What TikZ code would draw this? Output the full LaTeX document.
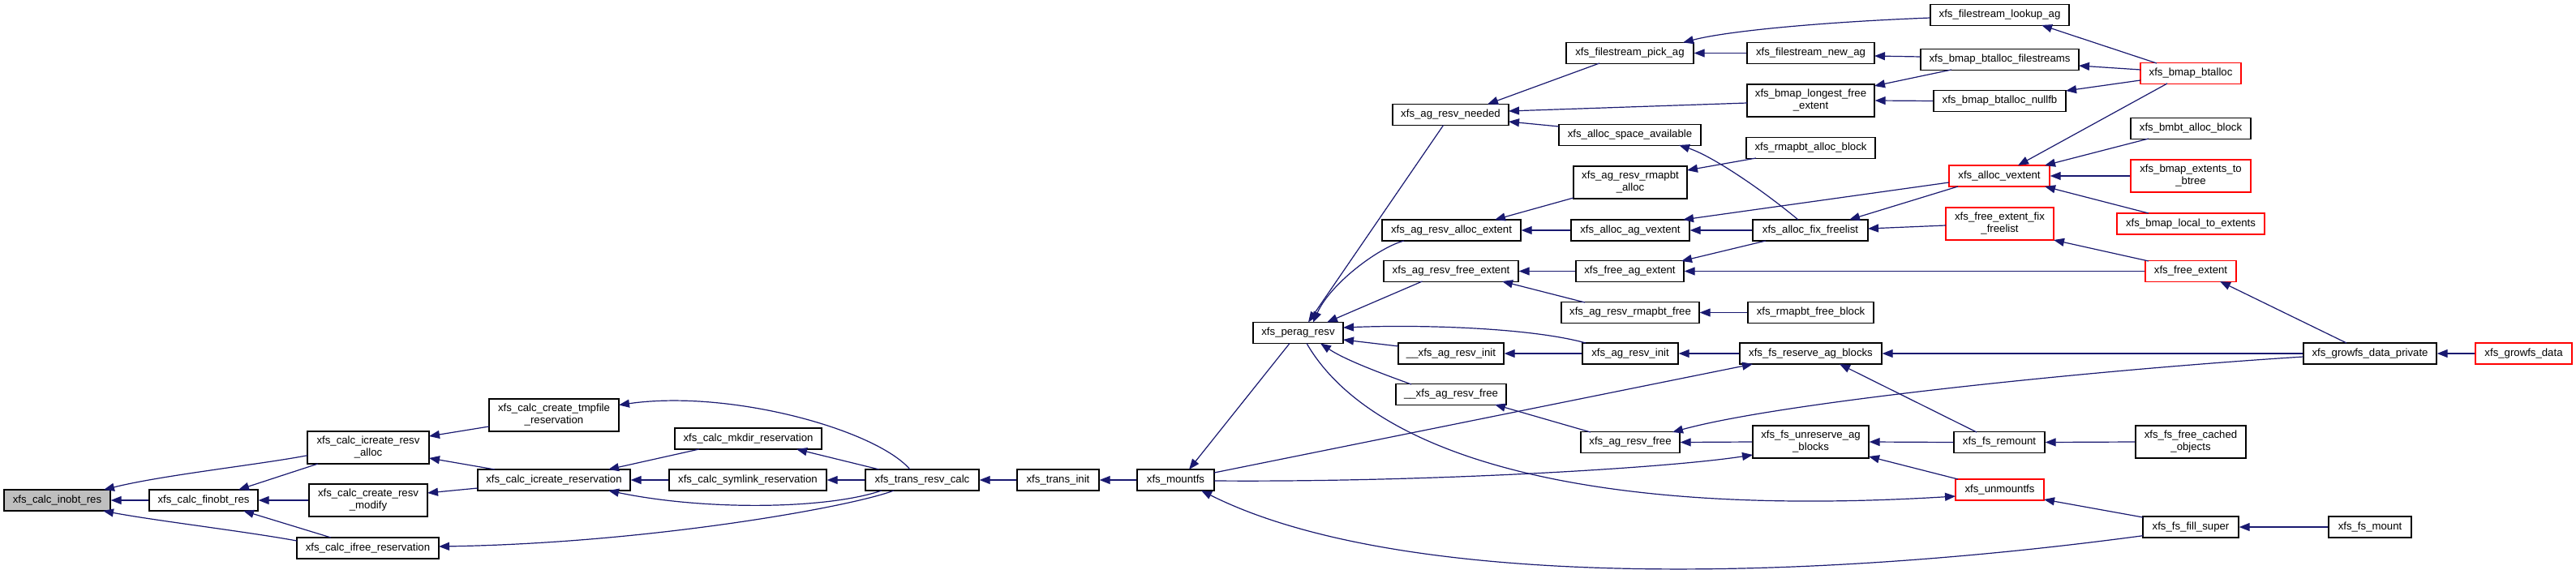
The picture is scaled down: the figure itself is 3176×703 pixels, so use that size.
\documentclass[tikz,border=0pt]{standalone}
\usepackage{fontspec}
\setmainfont{Liberation Sans}
\usetikzlibrary{arrows.meta}
\definecolor{edgecol}{HTML}{191970}
\definecolor{rootfill}{HTML}{BFBFBF}
\newcommand{\nodefont}{\fontsize{13.2pt}{15pt}\selectfont}
\begin{document}
\begin{tikzpicture}[x=1pt,y=-1pt,
  box/.style={draw=black, fill=white, line width=1.3pt, inner sep=0pt, minimum height=26pt, align=center, font=\nodefont},
  box2/.style={box, minimum height=40pt},
  rbox/.style={box, draw=red},
  rbox2/.style={box2, draw=red},
  e/.style={draw=edgecol, line width=1.2pt, -{Triangle[length=13pt,width=10pt]}}]
\useasboundingbox (0,0) rectangle (3176,703);
\fill[white] (0,0) rectangle (3176,703);
% nodes
\node[box,minimum width=131pt,fill=rootfill] (inobt) at (70.5,617) {xfs\_calc\_inobt\_res};
\node[box,minimum width=134pt] (finobt) at (251,617) {xfs\_calc\_finobt\_res};
\node[box2,minimum width=150pt] (icalloc) at (454,552) {xfs\_calc\_icreate\_resv\\\_alloc};
\node[box2,minimum width=146pt] (modify) at (454,617) {xfs\_calc\_create\_resv\\\_modify};
\node[box,minimum width=175pt] (ifree) at (453.5,676) {xfs\_calc\_ifree\_reservation};
\node[box2,minimum width=160pt] (tmpfile) at (683,512) {xfs\_calc\_create\_tmpfile\\\_reservation};
\node[box,minimum width=188pt] (icres) at (683,592) {xfs\_calc\_icreate\_reservation};
\node[box,minimum width=181pt] (mkdir) at (922.5,541) {xfs\_calc\_mkdir\_reservation};
\node[box,minimum width=194pt] (symlink) at (922,592) {xfs\_calc\_symlink\_reservation};
\node[box,minimum width=140pt] (trc) at (1137,592) {xfs\_trans\_resv\_calc};
\node[box,minimum width=101pt] (tinit) at (1304.5,592) {xfs\_trans\_init};
\node[box,minimum width=95pt] (mountfs) at (1449.5,592) {xfs\_mountfs};
\node[box,minimum width=111pt] (perag) at (1600.5,410.5) {xfs\_perag\_resv};
\node[box,minimum width=143pt] (needed) at (1788.5,141.5) {xfs\_ag\_resv\_needed};
\node[box,minimum width=171pt] (allocext) at (1789.5,284) {xfs\_ag\_resv\_alloc\_extent};
\node[box,minimum width=166pt] (freeext) at (1789,334.5) {xfs\_ag\_resv\_free\_extent};
\node[box,minimum width=130pt] (uinit) at (1789,436) {\_\_xfs\_ag\_resv\_init};
\node[box,minimum width=136pt] (ufree) at (1789,486.5) {\_\_xfs\_ag\_resv\_free};
\node[box,minimum width=157pt] (pick) at (2009.5,65.5) {xfs\_filestream\_pick\_ag};
\node[box,minimum width=175pt] (spaceav) at (2009.5,166.5) {xfs\_alloc\_space\_available};
\node[box2,minimum width=140pt] (rmapalloc) at (2010,225) {xfs\_ag\_resv\_rmapbt\\\_alloc};
\node[box,minimum width=146pt] (agvext) at (2010,284) {xfs\_alloc\_ag\_vextent};
\node[box,minimum width=133pt] (freeagext) at (2009.5,334.5) {xfs\_free\_ag\_extent};
\node[box,minimum width=170pt] (rmapfree) at (2010,385.5) {xfs\_ag\_resv\_rmapbt\_free};
\node[box,minimum width=118pt] (aginit) at (2010,436) {xfs\_ag\_resv\_init};
\node[box,minimum width=122pt] (agfree) at (2010,545.5) {xfs\_ag\_resv\_free};
\node[box,minimum width=171pt] (lookup) at (2465.5,18.5) {xfs\_filestream\_lookup\_ag};
\node[box,minimum width=157pt] (newag) at (2232.5,65.5) {xfs\_filestream\_new\_ag};
\node[box2,minimum width=157pt] (longest) at (2232.5,124) {xfs\_bmap\_longest\_free\\\_extent};
\node[box,minimum width=159pt] (rmapallocblk) at (2232.5,182.5) {xfs\_rmapbt\_alloc\_block};
\node[box,minimum width=142pt] (fixfl) at (2232,284) {xfs\_alloc\_fix\_freelist};
\node[box,minimum width=155pt] (rmapfreeblk) at (2232.5,385.5) {xfs\_rmapbt\_free\_block};
\node[box,minimum width=175pt] (reserve) at (2232.5,436) {xfs\_fs\_reserve\_ag\_blocks};
\node[box2,minimum width=143pt] (unreserve) at (2232.5,545) {xfs\_fs\_unreserve\_ag\\\_blocks};
\node[box,minimum width=195pt] (btfs) at (2465.5,73.5) {xfs\_bmap\_btalloc\_filestreams};
\node[box,minimum width=163pt] (nullfb) at (2465.5,124.5) {xfs\_bmap\_btalloc\_nullfb};
\node[rbox,minimum width=124pt] (vextent) at (2465,217) {xfs\_alloc\_vextent};
\node[rbox2,minimum width=133pt] (fixfix) at (2465.5,276) {xfs\_free\_extent\_fix\\\_freelist};
\node[box,minimum width=112pt] (remount) at (2465,545.5) {xfs\_fs\_remount};
\node[rbox,minimum width=109pt] (unmountfs) at (2465.5,604) {xfs\_unmountfs};
\node[rbox,minimum width=124pt] (btalloc) at (2701,90.5) {xfs\_bmap\_btalloc};
\node[box,minimum width=148pt] (bmbt) at (2701,158.5) {xfs\_bmbt\_alloc\_block};
\node[rbox2,minimum width=148pt] (ext2bt) at (2701,217) {xfs\_bmap\_extents\_to\\\_btree};
\node[rbox,minimum width=182pt] (local) at (2701,276) {xfs\_bmap\_local\_to\_extents};
\node[rbox,minimum width=112pt] (freeextent) at (2701,334.5) {xfs\_free\_extent};
\node[box2,minimum width=136pt] (freecached) at (2701,545) {xfs\_fs\_free\_cached\\\_objects};
\node[box,minimum width=118pt] (fillsuper) at (2701,650) {xfs\_fs\_fill\_super};
\node[box,minimum width=164pt] (growpriv) at (2922,436) {xfs\_growfs\_data\_private};
\node[box,minimum width=102pt] (fsmount) at (2922,650) {xfs\_fs\_mount};
\node[rbox,minimum width=119pt] (growdata) at (3111.5,436) {xfs\_growfs\_data};
% edges (caller -> callee)
\draw[e] ([shift={(-75,9.7)}]icalloc.center) .. controls (320,573) and (200,586) .. ([shift={(57.5,-13)}]inobt.center);
\draw[e] (finobt.west) -- (inobt.east);
\draw[e] ([shift={(-87.5,-9)}]ifree.center) .. controls (300,655) and (190,642) .. ([shift={(56.5,13)}]inobt.center);
\draw[e] ([shift={(-62,20)}]icalloc.center) -- ([shift={(43,-13)}]finobt.center);
\draw[e] (modify.west) -- (finobt.east);
\draw[e] ([shift={(-45.5,-13)}]ifree.center) -- ([shift={(49,13)}]finobt.center);
\draw[e] ([shift={(-80,14)}]tmpfile.center) -- ([shift={(75,-14)}]icalloc.center);
\draw[e] ([shift={(-73,-13)}]icres.center) -- ([shift={(75,13)}]icalloc.center);
\draw[e] ([shift={(-94,10)}]icres.center) -- ([shift={(73,-9)}]modify.center);
\draw[e] ([shift={(-35,13)}]trc.center) .. controls (1050,625) and (800,670) .. ([shift={(87.5,-2)}]ifree.center);
\draw[e] ([shift={(-15,-13)}]trc.center) .. controls (1080,530) and (900,480) .. ([shift={(80,-12.5)}]tmpfile.center);
\draw[e] ([shift={(-60.5,13)}]mkdir.center) -- ([shift={(67,-13)}]icres.center);
\draw[e] (symlink.west) -- (icres.east);
\draw[e] ([shift={(-50,13)}]trc.center) .. controls (1020,628) and (870,630) .. ([shift={(67,13)}]icres.center);
\draw[e] ([shift={(-53,-13)}]trc.center) -- ([shift={(59.5,13)}]mkdir.center);
\draw[e] (trc.west) -- (symlink.east);
\draw[e] (tinit.west) -- (trc.east);
\draw[e] (mountfs.west) -- (tinit.east);
\draw[e] ([shift={(-10.5,13)}]perag.center) -- ([shift={(16.5,-13)}]mountfs.center);
\draw[e] ([shift={(47.5,-9)}]mountfs.center) -- ([shift={(-71.5,13)}]reserve.center);
\draw[e] ([shift={(47.5,1)}]mountfs.center) .. controls (1750,595) and (2050,578) .. ([shift={(-71.5,16)}]unreserve.center);
\draw[e] ([shift={(-59,10.7)}]fillsuper.center) .. controls (2200,720) and (1720,725) .. ([shift={(31.5,13)}]mountfs.center);
\draw[e] ([shift={(10.5,13)}]perag.center) .. controls (1690,560) and (1950,640) .. ([shift={(-54.5,8)}]unmountfs.center);
\draw[e] ([shift={(-9,13)}]needed.center) -- ([shift={(12.5,-13)}]perag.center);
\draw[e] ([shift={(-58.5,13)}]allocext.center) .. controls (1700,305) and (1640,350) .. ([shift={(18.5,-13)}]perag.center);
\draw[e] ([shift={(-35.5,12.5)}]freeext.center) -- ([shift={(35.5,-13)}]perag.center);
\draw[e] ([shift={(-55,-13)}]aginit.center) .. controls (1890,405) and (1760,400) .. ([shift={(55.5,-6.5)}]perag.center);
\draw[e] ([shift={(-65,-9)}]uinit.center) -- ([shift={(55.5,8.5)}]perag.center);
\draw[e] ([shift={(-49,-12.5)}]ufree.center) .. controls (1710,463) and (1660,445) .. ([shift={(27.5,13)}]perag.center);
\draw[e] ([shift={(-56,-12.5)}]rmapfree.center) -- ([shift={(63,12.5)}]freeext.center);
\draw[e] (aginit.west) -- (uinit.east);
\draw[e] ([shift={(-49,-12.5)}]agfree.center) -- ([shift={(54,12.5)}]ufree.center);
\draw[e] (rmapfreeblk.west) -- (rmapfree.east);
\draw[e] (reserve.west) -- (aginit.east);
\draw[e] ([shift={(-82,4)}]growpriv.center) .. controls (2600,455) and (2200,495) .. ([shift={(52,-12.5)}]agfree.center);
\draw[e] (unreserve.west) -- (agfree.east);
\draw[e] (growpriv.west) -- (reserve.east);
\draw[e] ([shift={(-28,-12.5)}]remount.center) -- ([shift={(35.5,13)}]reserve.center);
\draw[e] (remount.west) -- (unreserve.east);
\draw[e] ([shift={(-51.5,-13)}]unmountfs.center) -- ([shift={(71.5,18)}]unreserve.center);
\draw[e] (freecached.west) -- (remount.east);
\draw[e] ([shift={(-59,-12)}]fillsuper.center) -- ([shift={(54.5,12)}]unmountfs.center);
\draw[e] (fsmount.west) -- (fillsuper.east);
\draw[e] (growdata.west) -- (growpriv.east);
\draw[e] ([shift={(-29,-13)}]growpriv.center) -- ([shift={(36,12.5)}]freeextent.center);
\draw[e] ([shift={(-37.5,12.5)}]pick.center) -- ([shift={(45.5,-13)}]needed.center);
\draw[e] ([shift={(-78.5,3)}]longest.center) -- ([shift={(71.5,-4.5)}]needed.center);
\draw[e] ([shift={(-87.5,-10.5)}]spaceav.center) -- ([shift={(71.5,8.5)}]needed.center);
\draw[e] ([shift={(-85.5,3.5)}]lookup.center) .. controls (2250,27) and (2130,38) .. ([shift={(65.5,-13)}]pick.center);
\draw[e] (newag.west) -- (pick.east);
\draw[e] ([shift={(-15,-13)}]fixfl.center) .. controls (2170,232) and (2110,192) .. ([shift={(60.5,12.5)}]spaceav.center);
\draw[e] ([shift={(-67.5,12.5)}]rmapallocblk.center) -- ([shift={(70,-15)}]rmapalloc.center);
\draw[e] ([shift={(-70,19)}]rmapalloc.center) -- ([shift={(53.5,-13)}]allocext.center);
\draw[e] (agvext.west) -- (allocext.east);
\draw[e] ([shift={(-62,8)}]vextent.center) -- ([shift={(65,-13)}]agvext.center);
\draw[e] (fixfl.west) -- (agvext.east);
\draw[e] (freeagext.west) -- (freeext.east);
\draw[e] ([shift={(-55,13)}]fixfl.center) -- ([shift={(63.5,-12.5)}]freeagext.center);
\draw[e] (freeextent.west) -- (freeagext.east);
\draw[e] ([shift={(-97.5,-3.5)}]btfs.center) -- ([shift={(78.5,3.5)}]newag.center);
\draw[e] ([shift={(-59.5,12.5)}]btfs.center) -- ([shift={(78.5,-18)}]longest.center);
\draw[e] (nullfb.west) -- (longest.east);
\draw[e] ([shift={(-42,-12.5)}]btalloc.center) -- ([shift={(51.5,12.5)}]lookup.center);
\draw[e] ([shift={(-62,-4.5)}]btalloc.center) -- ([shift={(97.5,7.5)}]btfs.center);
\draw[e] ([shift={(-62,8.5)}]btalloc.center) -- ([shift={(81.5,-12.5)}]nullfb.center);
\draw[e] ([shift={(-29,12.5)}]btalloc.center) -- ([shift={(23,-13)}]vextent.center);
\draw[e] ([shift={(-52,12.5)}]bmbt.center) -- ([shift={(56,-13)}]vextent.center);
\draw[e] (ext2bt.west) -- (vextent.east);
\draw[e] ([shift={(-52,-13)}]local.center) -- ([shift={(56,13)}]vextent.center);
\draw[e] ([shift={(-51,13)}]vextent.center) -- ([shift={(48,-13)}]fixfl.center);
\draw[e] ([shift={(-66.5,2)}]fixfix.center) -- ([shift={(71,-2)}]fixfl.center);
\draw[e] ([shift={(-52,-12.5)}]freeextent.center) -- ([shift={(66.5,20)}]fixfix.center);
\end{tikzpicture}
\end{document}
